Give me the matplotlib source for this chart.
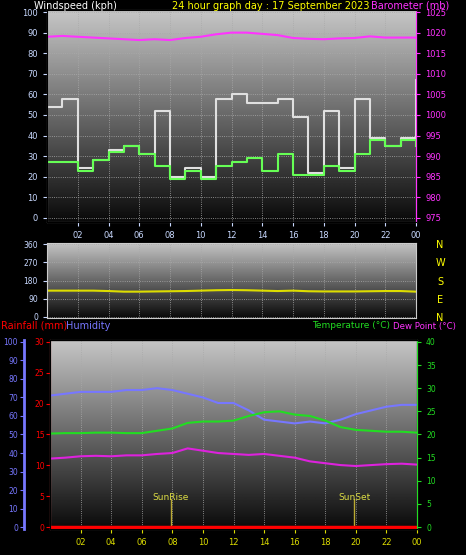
import numpy as np
import matplotlib
matplotlib.use("Agg")
import matplotlib.pyplot as plt

hours = np.arange(25)
gust = [54,58,24,28,33,35,31,52,20,24,20,58,60,56,56,58,49,22,52,24,58,39,35,39,67]
avg = [27,27,23,28,32,35,31,25,19,23,19,25,27,29,23,31,21,21,25,23,31,38,35,38,35]
baro = [1019,1019.2,1019,1018.8,1018.6,1018.4,1018.2,1018.4,1018.2,1018.7,1019,1019.6,1020,
        1020,1019.7,1019.4,1018.7,1018.5,1018.4,1018.6,1018.7,1019.1,1018.8,1018.8,1018.8]
wdir = [130,130,130,130,128,125,125,126,127,128,130,132,133,132,130,128,130,127,126,126,126,127,128,128,125]
hum = [71,72,73,73,73,74,74,75,74,72,70,67,67,63,58,57,56,57,56,58,61,63,65,66,66]
temp = [20.2,20.3,20.3,20.4,20.4,20.3,20.3,20.8,21.3,22.5,22.8,22.8,23,24,24.8,25,24.3,24,23,21.6,21,20.8,20.6,20.6,20.4]
dew = [14.8,15,15.3,15.4,15.3,15.5,15.5,15.8,16,17,16.5,16,15.8,15.6,15.8,15.4,15,14.2,13.8,13.4,13.2,13.4,13.6,13.7,13.5]
rain = [0]*25
xticks = list(range(2, 25, 2))
xlabels = ["02","04","06","08","10","12","14","16","18","20","22","00"]
sunrise, sunset = 7.9, 19.9

W, H = 466, 555
fig = plt.figure(figsize=(W/100, H/100), dpi=100, facecolor="black")
def ax_at(l, t, r, b):
    return fig.add_axes([l/W, 1-b/H, (r-l)/W, (b-t)/H])

grad = np.linspace(1, 0, 256).reshape(-1, 1)
def bg(ax, y0, y1):
    ax.imshow(grad, cmap="gray", extent=[0, 24, y0, y1], aspect="auto", vmin=-0.05, vmax=1.3, zorder=0)
    ax.set_facecolor("black")
    ax.grid(True, color="#aaaaaa", ls=":", lw=0.6)
    for s in ax.spines.values():
        s.set_color("#cccccc")
    ax.set_xlim(0, 24)

tc = "#c8d8ff"
fs = 6
tfs = 7
# top
ax1 = ax_at(47, 10, 416, 222)
bg(ax1, -2, 101)
ax1.set_ylim(-2, 101)
ax1.step(hours, gust, where="post", color="#e0e0e0", lw=1.5)
ax1.step(hours, avg, where="post", color="#66ff55", lw=1.5)
ax1.set_yticks(range(0, 101, 10))
ax1.tick_params(axis="y", colors=tc, labelsize=fs, length=3)
ax1.set_xticks(xticks); ax1.set_xticklabels(xlabels)
ax1.tick_params(axis="x", colors=tc, labelsize=fs, length=3)
axb = ax1.twinx()
axb.set_ylim(975 - 2*0.5, 1025 + 0.5)
axb.plot(hours, baro, color="#ff33ff", lw=1.5)
axb.set_yticks(range(975, 1026, 5))
axb.tick_params(axis="y", colors="#ff33ff", labelsize=fs, length=3)
axb.spines["right"].set_color("#ff33ff")
fig.text(34/W, 1-6/H, "Windspeed (kph)", color="white", fontsize=tfs, va="center")
fig.text(172/W, 1-6/H, "24 hour graph day : 17 September 2023", color="yellow", fontsize=tfs, va="center")
fig.text(371/W, 1-6/H, "Barometer (mb)", color="#ff33ff", fontsize=tfs, va="center")

# middle
ax2 = ax_at(47, 243, 416, 318)
bg(ax2, -5, 365)
ax2.set_ylim(-5, 365)
ax2.plot(hours, wdir, color="#dddd00", lw=1.5)
ax2.set_yticks([0, 90, 180, 270, 360])
ax2.tick_params(axis="y", colors=tc, labelsize=5.5, length=3)
ax2.set_xticks(xticks); ax2.set_xticklabels([])
ax2.tick_params(axis="x", length=0)
for i, d in enumerate(["N", "W", "S", "E", "N"]):
    fig.text(440/W, 1-(245+18.3*i)/H, d, color="yellow", fontsize=7, va="center", ha="center")

# bottom
ax3 = ax_at(50, 340, 417, 529)
bg(ax3, -1, 101)
ax3.set_ylim(-1, 101)
ax3.plot(hours, hum, color="#7777ff", lw=1.5)
ax3.set_yticks([])
ax3.set_xticks(xticks); ax3.set_xticklabels(xlabels)
ax3.tick_params(axis="x", colors="#dddd00", labelsize=fs, length=3)
for x, lab in [(sunrise, "SunRise"), (sunset, "SunSet")]:
    ax3.axvline(x, ymax=0.16, color="#bbaa33", lw=1)
    ax3.text(x, 14.5, lab, color="#dddd44", fontsize=6.5, ha="center")
axh = ax3.twinx()
axh.yaxis.set_ticks_position("left"); axh.yaxis.set_label_position("left")
axh.spines["left"].set_position(("outward", 19))
axh.spines["left"].set_color("#7777ff"); axh.spines["left"].set_linewidth(2)
axh.set_ylim(-1, 101)
axh.set_yticks(range(0, 101, 10))
axh.tick_params(axis="y", colors="#7777ff", labelsize=5.5, length=3, pad=1)
axr = ax3.twinx()
axr.yaxis.set_ticks_position("left")
axr.set_ylim(-0.3, 30.3)
axr.plot(hours, rain, color="red", lw=2.5, zorder=5)
axr.set_yticks(range(0, 31, 5))
axr.tick_params(axis="y", colors="red", labelsize=5.5, length=3, pad=1)
axr.spines["left"].set_color("red")
axt = ax3.twinx()
axt.set_ylim(-0.4, 40.4)
axt.plot(hours, temp, color="#22dd22", lw=1.5)
axt.plot(hours, dew, color="#dd22dd", lw=1.5)
axt.set_yticks(range(0, 41, 5))
axt.tick_params(axis="y", colors="#22dd22", labelsize=5.5, length=3)
axt.spines["right"].set_color("#22dd22")
fig.text(1/W, 1-326/H, "Rainfall (mm)", color="red", fontsize=tfs, va="center")
fig.text(66/W, 1-326/H, "Humidity", color="#7777ff", fontsize=tfs, va="center")
fig.text(312/W, 1-326/H, "Temperature (°C)", color="#22dd22", fontsize=6.5, va="center")
fig.text(393/W, 1-326/H, "Dew Point (°C)", color="#ff33ff", fontsize=6.2, va="center")

fig.savefig("out.png", dpi=100, facecolor="black")
